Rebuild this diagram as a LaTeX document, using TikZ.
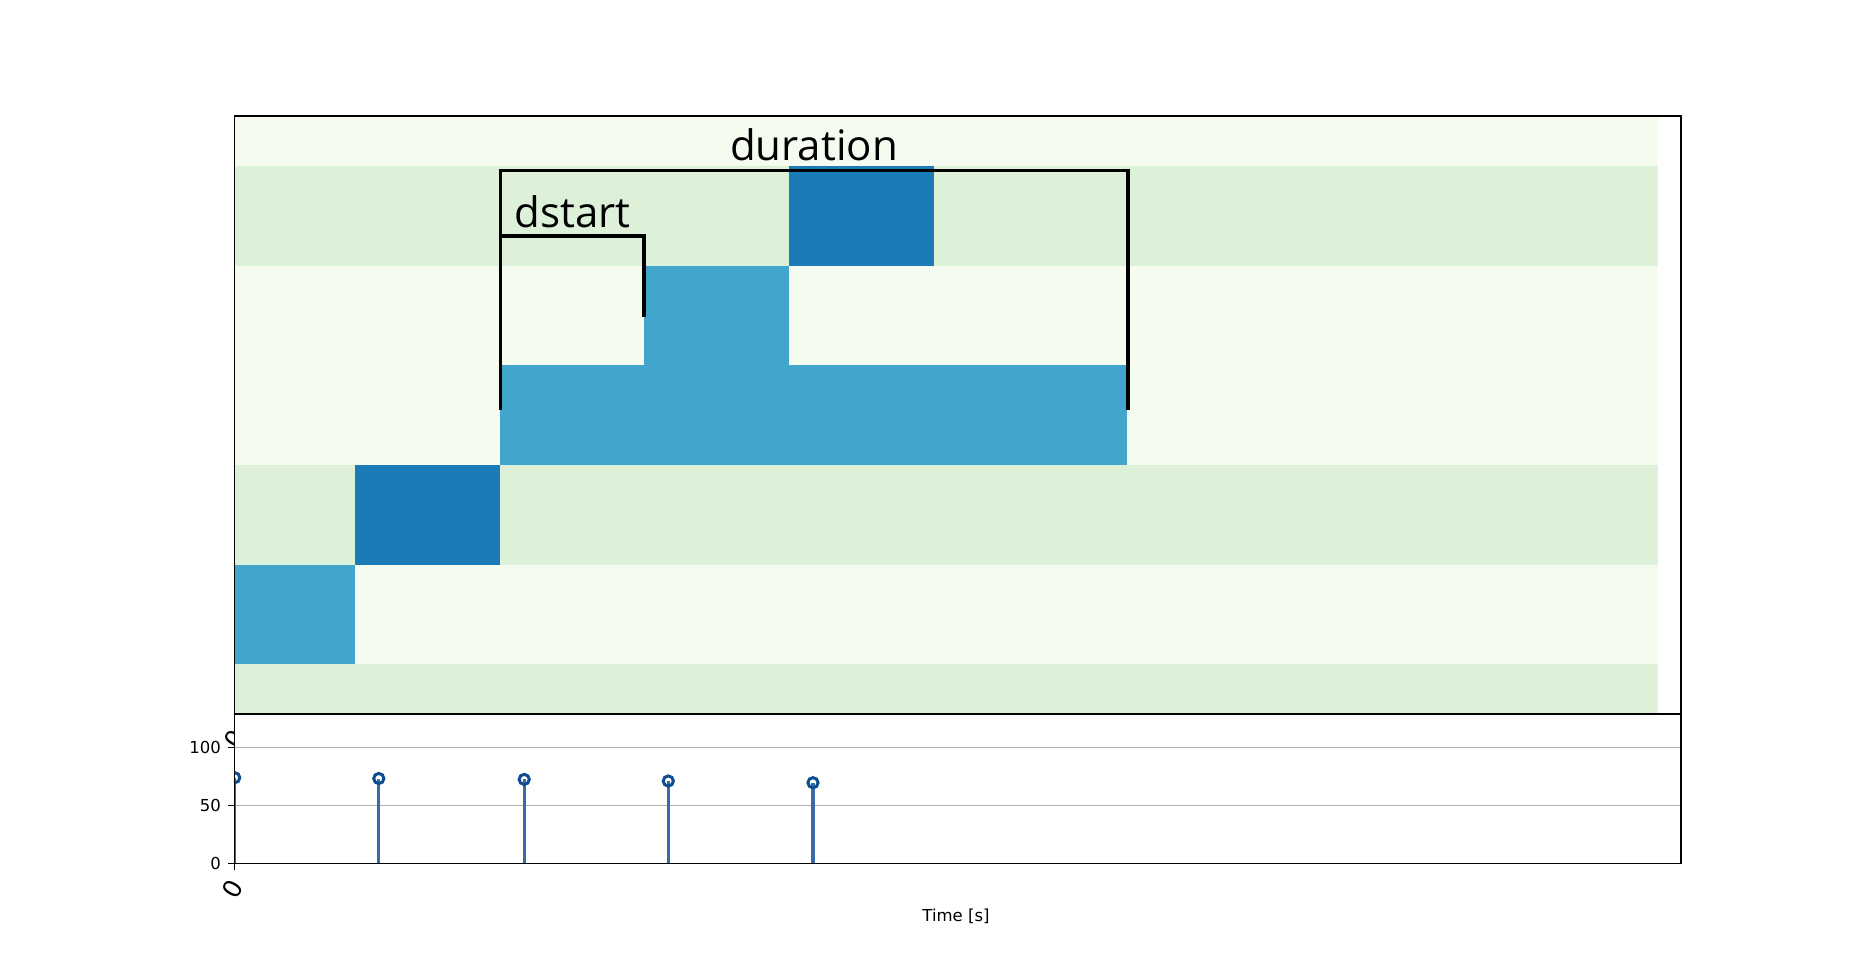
\documentclass[tikz,border=0pt]{standalone}
\usepackage{fontspec}
\setmainfont{DejaVu Sans}
\newfontfamily\annotfont{Open Sans}
\definecolor{rowlight}{HTML}{F5FBEF}
\definecolor{rowgreen}{HTML}{DDF1D9}
\definecolor{notemid}{HTML}{42A6CC}
\definecolor{notedark}{HTML}{1B7BB6}
\definecolor{stemblue}{HTML}{3A6BA6}
\definecolor{markblue}{HTML}{0E4D91}
\definecolor{gridgray}{HTML}{B0B0B0}

\begin{document}
\begin{tikzpicture}[x=1pt,y=-1pt]
  \def\xl{234.3}
  \def\xr{1681}
  \def\xh{1658}
  \def\yt{116}
  \def\ym{714}
  \def\yb{863.3}
  \tikzset{bracket/.style={line width=3.5pt}}
  \tikzset{frame/.style={line width=1.3pt}}
  \tikzset{ticklabel/.style={inner sep=0pt,font=\fontsize{16.5}{19}\selectfont}}
  \tikzset{rotlabel/.style={inner sep=0pt,rotate=60,font=\fontsize{25}{29}\selectfont}}
  \tikzset{annot/.style={inner sep=0pt,anchor=base,font=\annotfont\fontsize{42}{48}\selectfont}}
  \useasboundingbox[fill=white] (0,0) rectangle (1868,970);
  % piano roll
  \foreach \a/\b/\c in {116/166/rowlight,166/265.7/rowgreen,265.7/465/rowlight,
                        465/564.6/rowgreen,564.6/664.3/rowlight,664.3/714/rowgreen}
    \fill[\c] (\xl,\a) rectangle (\xh,\b);
  \foreach \a/\b/\c/\d/\col in {234.3/355/564.6/664.3/notemid,355/500/465/564.6/notedark,
                                500/1127/365.3/465/notemid,644/789/265.7/365.3/notemid,
                                789/934/166/265.7/notedark}
    \fill[\col] (\a,\c) rectangle (\b,\d);
  \draw[frame] (\xl,\yt) rectangle (\xr,\ym);
  % brackets
  \coordinate (durL) at (500.7,410);
  \coordinate (durR) at (1128,410);
  \coordinate (dstL) at (500.7,236);
  \coordinate (dstR) at (644,317);
  \draw[bracket] (durL) |- (814,170.7) -| (durR);
  \draw[bracket] (dstL) -| (dstR);
  \node[annot] (duration) at (814,160) {duration};
  \node[annot] (dstart) at (572.5,227.7) {dstart};
  % hidden tick label of the upper axes
  \node[rotlabel] (hidzero) at (235,739) {0};
  % lower axes
  \fill[white] (\xl,\ym) rectangle (\xr,\yb);
  \foreach \v/\y in {100/747.3,50/805.3} {
    \draw[gridgray,line width=1.1pt] (\xl,\y) -- (\xr,\y);
  }
  \begin{scope}
    \clip (\xl,\ym) rectangle (\xr,\yb);
    \foreach \x/\y in {234.7/777.7,378.8/778.5,524.2/779.4,668.3/781,813/782.7} {
      \draw[stemblue,line width=3.2pt] (\x,\yb) -- (\x,\y);
      \draw[markblue,line width=3pt] (\x,\y) circle (5.1);
    }
  \end{scope}
  \draw[frame] (\xl,\ym) rectangle (\xr,\yb);
  \foreach \v/\y in {100/747.3,50/805.3,0/863.3} {
    \draw[frame] (228,\y) -- (\xl,\y);
    \node[ticklabel,anchor=east] at (221,\y) {\v};
  }
  \draw[frame] (\xl,\yb) -- (\xl,869.5);
  \node[rotlabel] (zero) at (233,889) {0};
  \node[ticklabel] (xlabel) at (956,916) {Time [s]};
\end{tikzpicture}
\end{document}
